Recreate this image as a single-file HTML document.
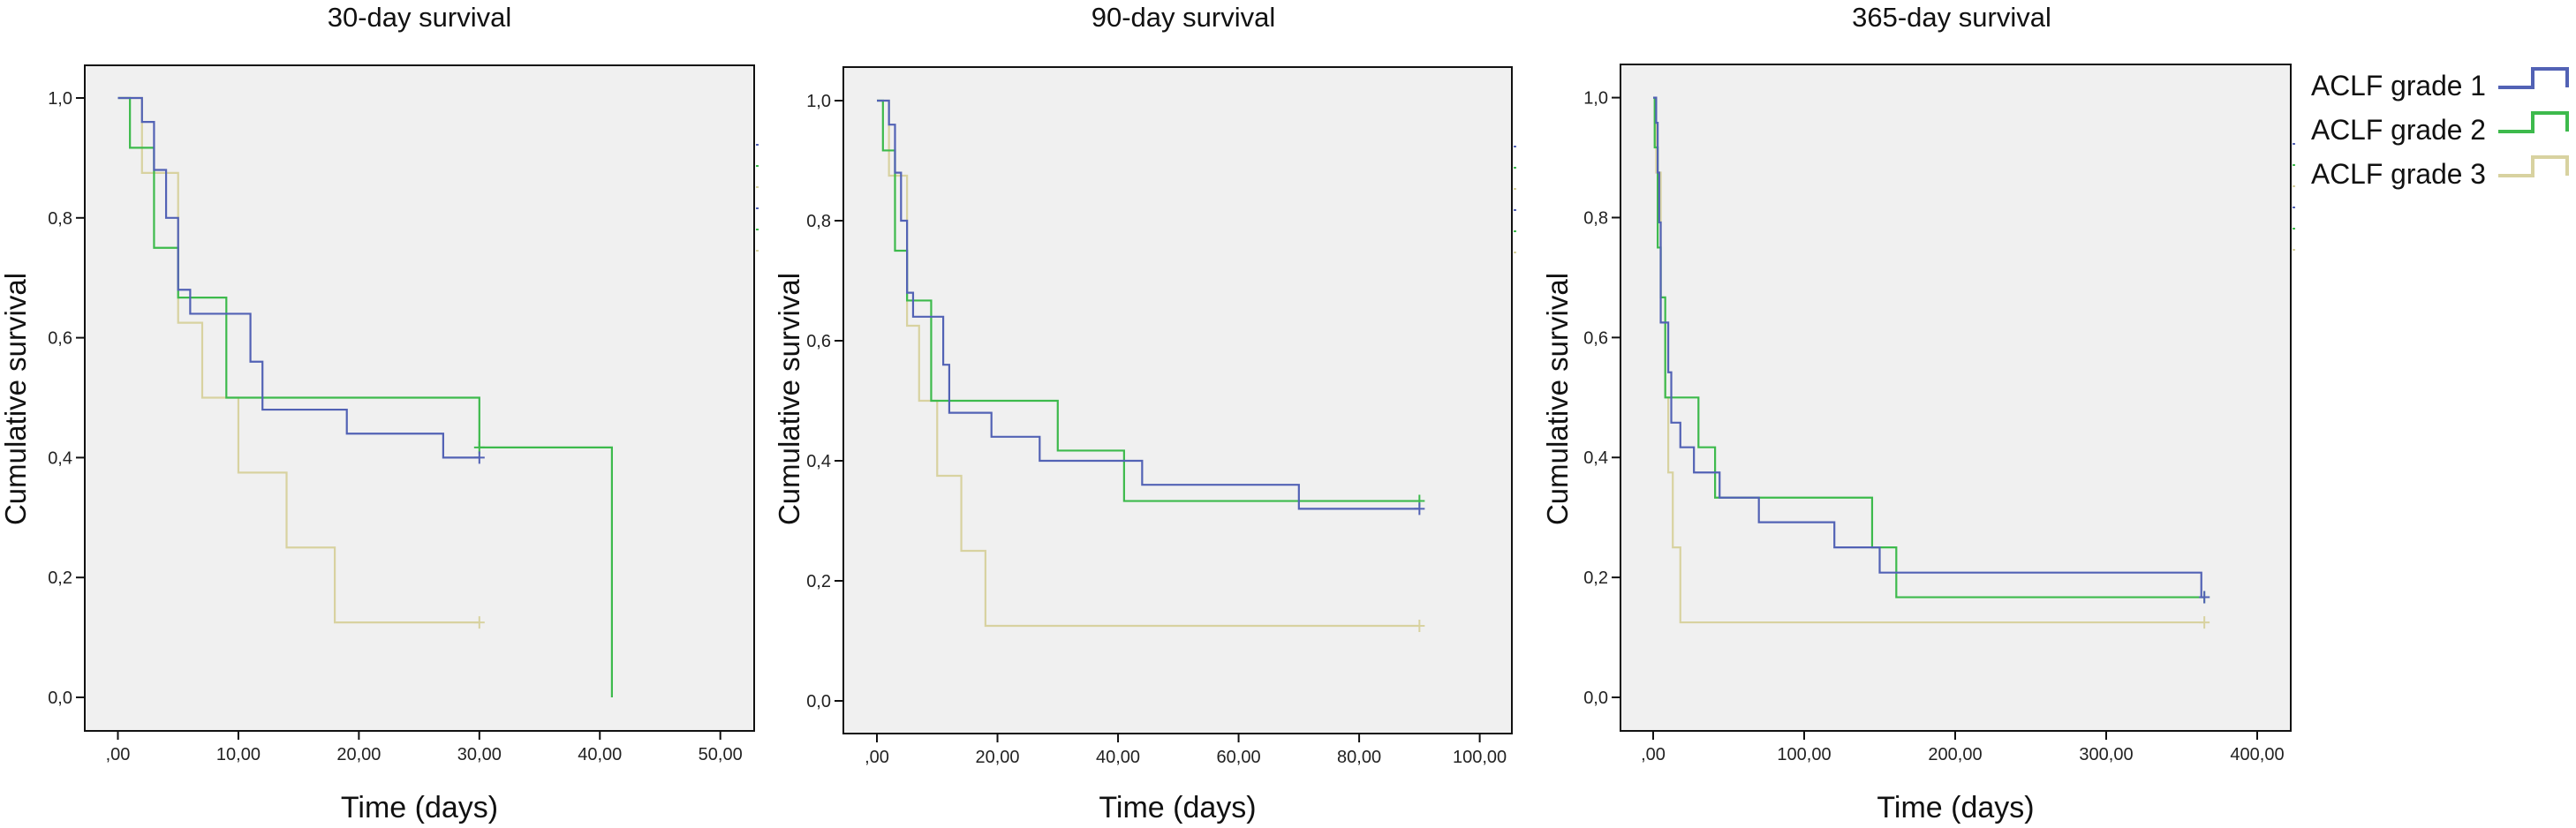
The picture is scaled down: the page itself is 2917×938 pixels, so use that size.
<!DOCTYPE html>
<html><head><meta charset="utf-8"><style>
html,body{margin:0;padding:0;background:#fff;}
svg{display:block;font-family:"Liberation Sans",Arial,sans-serif;}
</style></head><body>
<svg id="chart" width="2917" height="938" viewBox="0 0 2917 938"></svg>
<script>
const panelTitles = ["30-day survival","90-day survival","365-day survival"];
const xTicks1 = [0,10,20,30,40,50];
const xTicks2 = [0,20,40,60,80,100];
const xTicks3 = [0,100,200,300,400];
const yTicks = [0,0.2,0.4,0.6,0.8,1.0];
const seriesNames = ["ACLF grade 1","ACLF grade 2","ACLF grade 3"];
// 30-day
const g1t30=[0,2,3,4,5,6,11,12,19,27], g1v30=[1,.96,.88,.80,.68,.64,.56,.48,.44,.40], g1e30=30;
const g2t30=[0,1,3,5,9,30,41], g2v30=[1,.917,.75,.667,.5,.417,0], g2e30=41, g2c30=30;
const g3t30=[0,2,5,7,10,14,18], g3v30=[1,.875,.625,.5,.375,.25,.125], g3e30=30;
// 90-day
const g1t90=[0,2,3,4,5,6,11,12,19,27,44,70], g1v90=[1,.96,.88,.80,.68,.64,.56,.48,.44,.40,.36,.32], g1e90=90;
const g2t90=[0,1,3,5,9,30,41], g2v90=[1,.917,.75,.667,.5,.417,.333], g2e90=90;
const g3t90=[0,2,5,7,10,14,18], g3v90=[1,.875,.625,.5,.375,.25,.125], g3e90=90;
// 365-day
const g1t365=[0,2,3,4,5,10,12,18,27,44,70,120,150,363], g1v365=[1,.958,.875,.792,.625,.542,.458,.417,.375,.333,.292,.25,.208,.167], g1e365=365;
const g2t365=[0,1,3,5,8,30,41,145,161], g2v365=[1,.917,.75,.667,.5,.417,.333,.25,.167], g2e365=365;
const g3t365=[0,2,5,8,10,13,18], g3v365=[1,.875,.625,.5,.375,.25,.125], g3e365=365;

const colors=["#5262b5","#3dba4c","#d8d2a0"];
const NS="http://www.w3.org/2000/svg";
const svg=document.getElementById("chart");
function el(tag,attrs,parent){const e=document.createElementNS(NS,tag);for(const k in attrs)e.setAttribute(k,attrs[k]);(parent||svg).appendChild(e);return e;}

const panels=[
 {fx0:96,fx1:854,fy0:74,fy1:828,x0:133.5,x1:815.7,xmax:50,y1:111,y0:790,ticks:xTicks1,ytx:29,tcx:475,
  series:[[g1t30,g1v30,g1e30,30],[g2t30,g2v30,g2e30,g2c30],[g3t30,g3v30,g3e30,30]]},
 {fx0:955,fx1:1712,fy0:76,fy1:831,x0:993,x1:1675.6,xmax:100,y1:114,y0:794,ticks:xTicks2,ytx:905,tcx:1340,
  series:[[g1t90,g1v90,g1e90,90],[g2t90,g2v90,g2e90,90],[g3t90,g3v90,g3e90,90]]},
 {fx0:1835,fx1:2594,fy0:73,fy1:828,x0:1872,x1:2556,xmax:400,y1:110.6,y0:790,ticks:xTicks3,ytx:1775,tcx:2210,
  series:[[g1t365,g1v365,g1e365,365],[g2t365,g2v365,g2e365,365],[g3t365,g3v365,g3e365,365]]}
];
const fmt=v=>v===0?",00":v.toFixed(2).replace(".",",");
panels.forEach((p,pi)=>{
  const g=el("g",{});
  
  
  const X=t=>p.x0+(p.x1-p.x0)*t/p.xmax;
  const Y=v=>p.y0+(p.y1-p.y0)*v;
  const t=el("text",{x:p.tcx,y:30,"text-anchor":"middle","font-size":"31",fill:"#111"},g);t.textContent=panelTitles[pi];
  
  
  const r=el("rect",{x:p.fx0,y:p.fy0,width:p.fx1-p.fx0,height:p.fy1-p.fy0,fill:"#f0f0f0",stroke:"#111","stroke-width":2},g);
  
  
  yTicks.forEach(v=>{
    el("line",{x1:p.fx0-10,x2:p.fx0,y1:Y(v),y2:Y(v),stroke:"#111","stroke-width":2},g);
    const l=el("text",{x:p.fx0-14,y:Y(v)+7,"text-anchor":"end","font-size":"20",fill:"#222"},g);
    l.textContent=v.toFixed(1).replace(".",",");
    
    
  });
  p.ticks.forEach(v=>{
    el("line",{x1:X(v),x2:X(v),y1:p.fy1,y2:p.fy1+10,stroke:"#111","stroke-width":2},g);
    const l=el("text",{x:X(v),y:p.fy1+33,"text-anchor":"middle","font-size":"20",fill:"#222"},g);
    l.textContent=fmt(v);
    
    
  });
  const yt=el("text",{x:0,y:0,"text-anchor":"middle","font-size":"33",fill:"#111",transform:`translate(${p.ytx},452) rotate(-90)`},g);
  yt.textContent="Cumulative survival";
  
  
  const xt=el("text",{x:(p.fx0+p.fx1)/2,y:926,"text-anchor":"middle","font-size":"34",fill:"#111"},g);
  xt.textContent="Time (days)";
  
  
  [0,1,2,3,4,5].forEach(i=>{el("line",{x1:p.fx1+2,x2:p.fx1+5,y1:p.fy0+90+i*24,y2:p.fy0+90+i*24,stroke:colors[i%3],"stroke-width":2},g);});
  [2,1,0].forEach(si=>{
    const [ts,vs,end,cens]=p.series[si];
    let d=`M${X(ts[0])},${Y(vs[0])}`;
    for(let i=1;i<ts.length;i++){d+=` H${X(ts[i])} V${Y(vs[i])}`;}
    d+=` H${X(end)}`;
    const path=el("path",{d:d,fill:"none",stroke:colors[si],"stroke-width":2.2},g);
    
    
    let cv=vs[vs.length-1];
    for(let i=0;i<ts.length;i++){if(ts[i]<=cens)cv=vs[i];}
    const cx=X(cens),cy=Y(cv);
    const c=el("path",{d:`M${cx-6},${cy} H${cx+6} M${cx},${cy-7} V${cy+7}`,stroke:colors[si],"stroke-width":2},g);
    
    
  });
});
seriesNames.forEach((n,i)=>{
  const y=96+i*50;
  const lg=el("g",{});
  
  
  const tx=el("text",{x:2617,y:y+12,"font-size":"32",fill:"#111",textLength:"198",lengthAdjust:"spacingAndGlyphs"},lg);tx.textContent=n;
  el("path",{d:`M2829,${y+3} H2868 V${y-18} H2907 V${y+3}`,fill:"none",stroke:colors[i],"stroke-width":4},lg);
});
</script>
</body></html>
